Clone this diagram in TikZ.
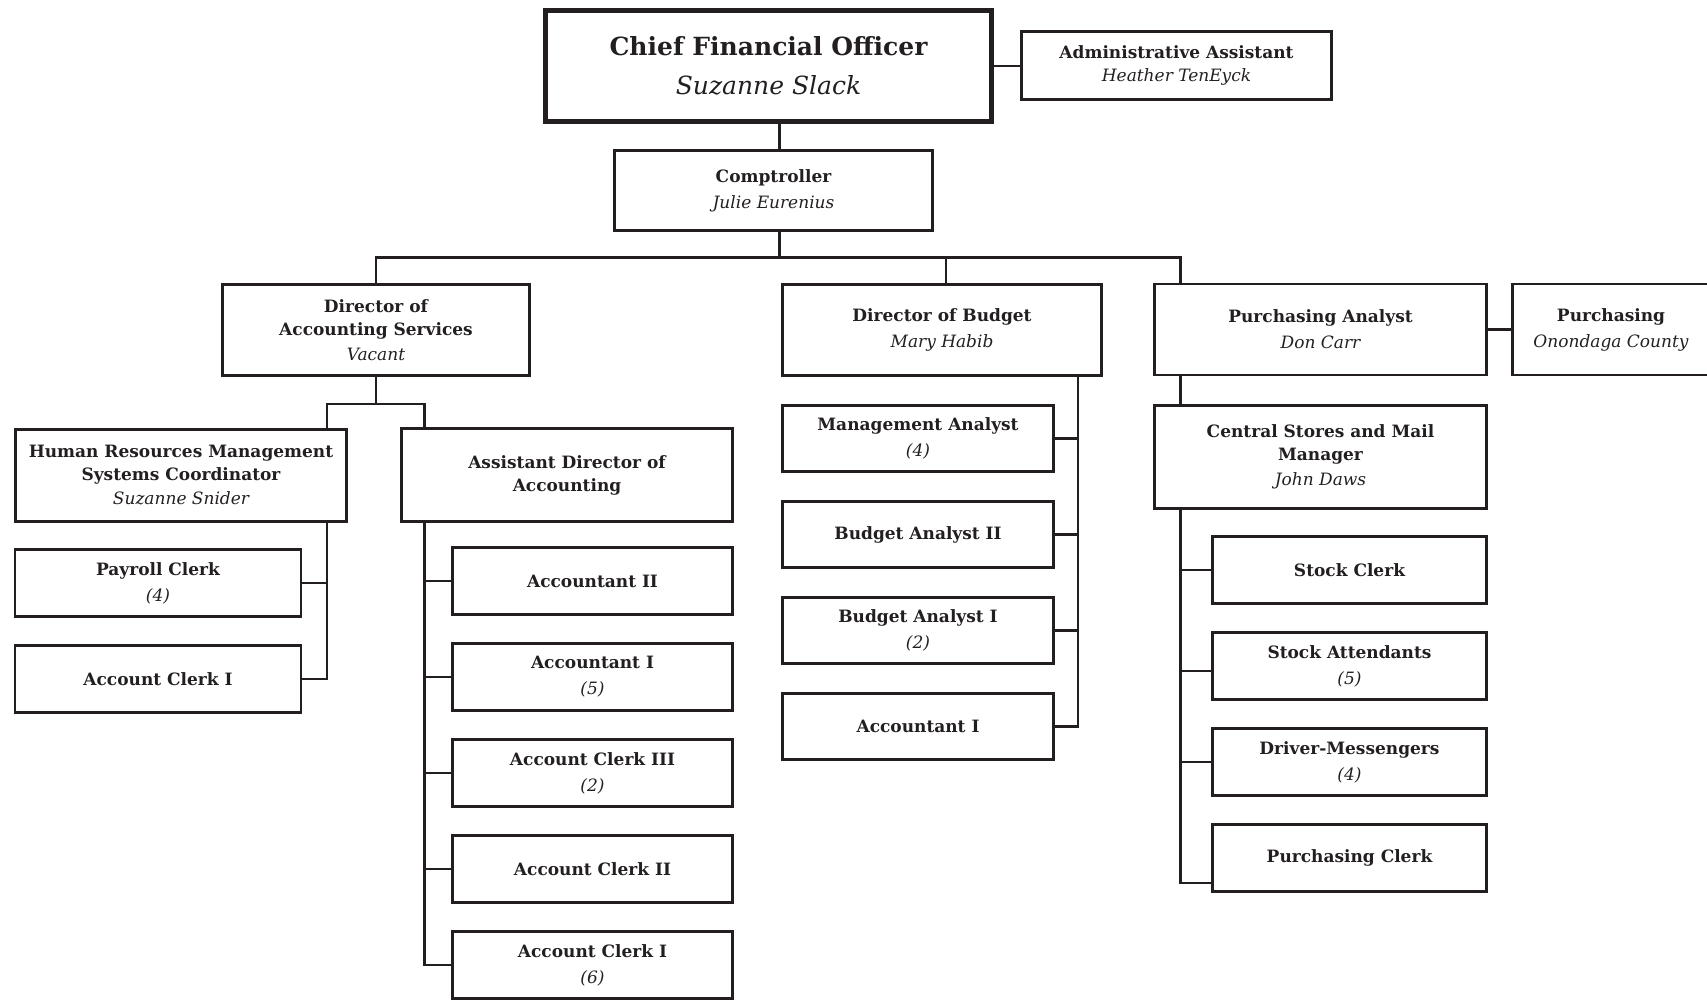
\documentclass[tikz,border=0pt]{standalone}
\usepackage{fontspec}
\setmainfont{DejaVu Serif}
\definecolor{ink}{HTML}{231F20}
\newcommand{\who}[1]{{\mdseries\itshape #1}}
\tikzstyle{post} = [rectangle, draw=ink, line width=2.6pt, text=ink, align=center, inner sep=2pt, font=\fontsize{17}{23}\selectfont\bfseries]
\tikzstyle{chief} = [post, line width=5pt, font=\fontsize{25}{39}\selectfont\bfseries]
\tikzstyle{leftjob} = [post, minimum width=286pt, minimum height=67pt]
\tikzstyle{acctjob} = [post, minimum width=280pt, minimum height=67pt]
\tikzstyle{budgetjob} = [post, minimum width=271pt, minimum height=66pt]
\tikzstyle{storejob} = [post, minimum width=274pt, minimum height=67pt]
\tikzstyle{link} = [draw=ink, line width=2.6pt]

\begin{document}
\begin{tikzpicture}[x=1pt, y=1pt, node distance=96pt]
\useasboundingbox (0,0) rectangle (1707,-1000);
\node (cfo) [chief, minimum width=446pt, minimum height=111pt] at (768.5,-66) {Chief Financial Officer\\\who{Suzanne Slack}};
\node (admin) [post, minimum width=310pt, minimum height=68pt] at (1176.5,-65.5) {Administrative Assistant\\\who{Heather TenEyck}};
\node (comp) [post, minimum width=318pt, minimum height=80pt] at (773.5,-190.5) {Comptroller\\[3pt]\who{Julie Eurenius}};
\node (das) [post, minimum width=307pt, minimum height=91pt] at (376,-330) {Director of\\Accounting Services\\[2pt]\who{Vacant}};
\node (db) [post, minimum width=319pt, minimum height=91pt] at (942,-330) {Director of Budget\\[3pt]\who{Mary Habib}};
\node (pa) [post, minimum width=332pt, minimum height=91pt] at (1320.5,-329.5) {Purchasing Analyst\\[3pt]\who{Don Carr}};
\node (purch) [post, minimum width=197pt, minimum height=91pt] at (1611,-329.5) {Purchasing\\[3pt]\who{Onondaga County}};
\node (hr) [post, minimum width=331pt, minimum height=92pt] at (181,-475.5) {Human Resources Management\\Systems Coordinator\\[1pt]\who{Suzanne Snider}};
\node (ada) [post, minimum width=331pt, minimum height=93pt] at (567,-475) {Assistant Director of\\Accounting};
\node (cs) [post, minimum width=332pt, minimum height=103pt] at (1320.5,-457) {Central Stores and Mail\\Manager\\[2pt]\who{John Daws}};

% payroll side
\node (pay) [leftjob] at (158,-583) {Payroll Clerk\\[3pt]\who{(4)}};
\node (acl1a) [leftjob, below of=pay] {Account Clerk I};

% accounting
\node (acc2) [acctjob] at (592.5,-581) {Accountant II};
\node (acc1) [acctjob, below of=acc2] {Accountant I\\[3pt]\who{(5)}};
\node (acl3) [acctjob, below of=acc1] {Account Clerk III\\[3pt]\who{(2)}};
\node (acl2) [acctjob, below of=acl3] {Account Clerk II};
\node (acl1) [acctjob, below of=acl2] {Account Clerk I\\[3pt]\who{(6)}};

% budget
\node (ma) [budgetjob] at (918,-438.5) {Management Analyst\\[3pt]\who{(4)}};
\node (ba2) [budgetjob, below of=ma] {Budget Analyst II};
\node (ba1) [budgetjob, below of=ba2] {Budget Analyst I\\[3pt]\who{(2)}};
\node (acc1b) [budgetjob, below of=ba1] {Accountant I};

% central stores
\node (stc) [storejob] at (1349.5,-570) {Stock Clerk};
\node (sta) [storejob, below of=stc] {Stock Attendants\\[3pt]\who{(5)}};
\node (drm) [storejob, below of=sta] {Driver-Messengers\\[3pt]\who{(4)}};
\node (pcl) [storejob, below of=drm] {Purchasing Clerk};

\draw [link] (cfo.east) -- (cfo.east -| admin.west);
\draw [link] ([xshift=6]comp.north) -- ([xshift=6]comp.north |- cfo.south);
\draw [link] ([xshift=6]comp.south) -- ++(0,-26) coordinate (bus);
\draw [link] (bus) -| (das.north);
\draw [link] (bus) -| ([xshift=4]db.north);
\draw [link] (bus) -| ([xshift=27]pa.north west);
\draw [link] (pa.east) -- (pa.east -| purch.west);

\draw [link] (das.south) -- ++(0,-27) coordinate (dasj);
\draw [link] (dasj) -| ([xshift=-21]hr.north east);
\draw [link] (dasj) -| ([xshift=24]ada.north west);
\draw [link] ([xshift=-21]hr.south east) |- (pay.east);
\draw [link] ([xshift=-21]hr.south east) |- (acl1a.east);
\foreach \n in {acc2,acc1,acl3,acl2,acl1}
  \draw [link] ([xshift=24]ada.south west) |- (\n.west);

\foreach \n in {ma,ba2,ba1,acc1b}
  \draw [link] ([xshift=-25]db.south east) |- (\n.east);

\draw [link] ([xshift=27]pa.south west) -- ([xshift=27]cs.north west);
\draw [link] ([xshift=27]cs.south west) |- (stc.west);
\draw [link] ([xshift=27]cs.south west) |- ([yshift=-5]sta.west);
\draw [link] ([xshift=27]cs.south west) |- (drm.west);
\draw [link] ([xshift=27]cs.south west) |- ([yshift=-25]pcl.west);
\end{tikzpicture}
\end{document}
